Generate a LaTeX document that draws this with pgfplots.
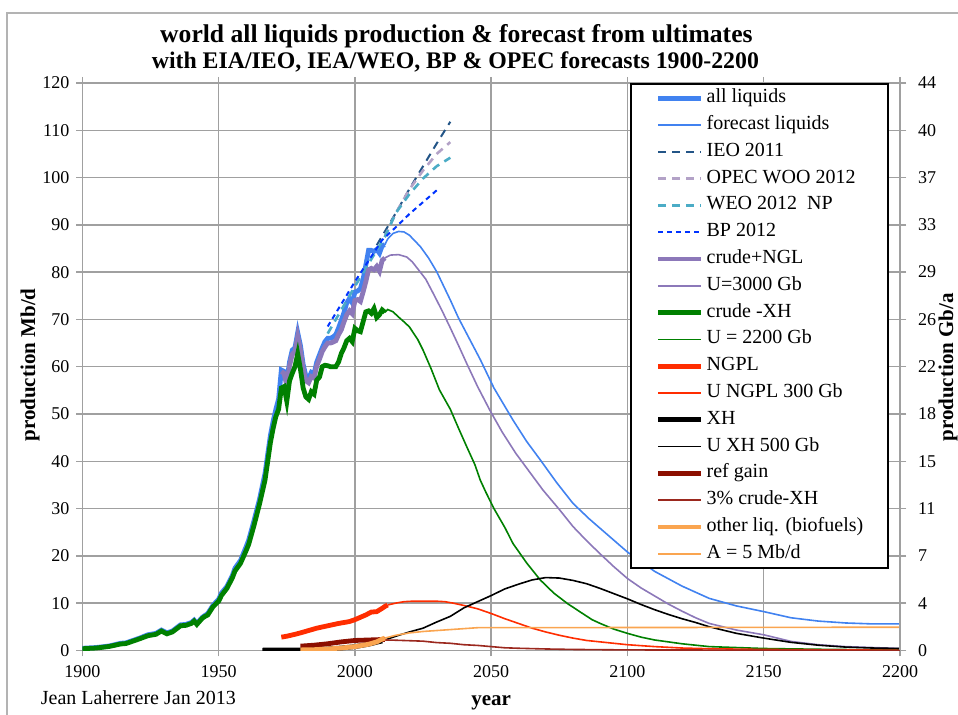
\documentclass[border=0pt]{standalone}
\usepackage{fontspec}
\setmainfont{Liberation Serif}
\usepackage{pgfplots}
\pgfplotsset{compat=1.18}
\definecolor{cAll}{RGB}{65,130,240}
\definecolor{cIEO}{RGB}{35,85,135}
\definecolor{cOPEC}{RGB}{179,162,199}
\definecolor{cWEO}{RGB}{75,172,198}
\definecolor{cBP}{RGB}{0,51,255}
\definecolor{cCNGL}{RGB}{140,120,185}
\definecolor{cCrude}{RGB}{0,128,0}
\definecolor{cNGPL}{RGB}{255,45,0}
\definecolor{cRef}{RGB}{140,15,0}
\definecolor{cRefT}{RGB}{155,40,30}
\definecolor{cOther}{RGB}{250,165,80}
\definecolor{cGrid}{RGB}{160,160,160}
\begin{document}
\begin{tikzpicture}[x=1pt,y=1pt]
\useasboundingbox (-41.2,-32.3) rectangle (437.8,325.2);
\draw[cGrid!80, line width=0.6pt] (-37.7,-40) -- (-37.7,318.7) -- (450,318.7);
\node[font=\bfseries\fontsize{12.8}{14}\selectfont] at (187,307.0)
 {world all liquids production \& forecast from ultimates};
\node[font=\bfseries\fontsize{11.9}{14}\selectfont] at (186.5,294.0)
 {with EIA/IEO, IEA/WEO, BP \& OPEC forecasts 1900-2200};
\node[anchor=west, font=\fontsize{10}{12}\selectfont] at (-24.3,-23.8) {Jean Laherrere Jan 2013};
\node[rotate=90, anchor=base, font=\bfseries\fontsize{10.5}{12}\selectfont] at (435.3,141.5) {production Gb/a};
\begin{axis}[
 at={(0,0)}, anchor=south west,
 scale only axis, width=408.8pt, height=283.7pt,
 xmin=1900, xmax=2200, ymin=0, ymax=120,
 xtick={1900,1950,...,2200}, ytick={0,10,...,120},
 grid=major, major grid style={color=cGrid, line width=0.75pt},
 axis line style={cGrid, line width=0.75pt},
 tick style={cGrid, line width=0.75pt},
 tick align=outside, major tick length=3pt,
 ticklabel style={font=\fontsize{9}{10}\selectfont},
 xticklabel style={yshift=-1pt},
 /pgf/number format/assume math mode=true,
 /pgf/number format/1000 sep={},
 xlabel={year}, ylabel={production Mb/d},
 xlabel style={font=\bfseries\fontsize{10.5}{12}\selectfont, at={(axis description cs:0.5,-0.093)}, anchor=center},
 ylabel style={font=\bfseries\fontsize{10.5}{12}\selectfont, at={(axis description cs:-0.064,0.503)}, anchor=center},
 legend image code/.code={\draw[#1] (0pt,0pt) -- (21.5pt,0pt);},
 legend cell align=left,
 legend style={at={(0.9866,1)}, anchor=north east, draw=black, line width=0.8pt, fill=white,
   font=\fontsize{10}{12}\selectfont, inner xsep=12.5pt, inner ysep=0.5pt, column sep=1.5pt,
   nodes={inner xsep=0pt, inner ysep=2pt, text height=7pt, text depth=2.4pt}},
]
% all liquids
\addplot[cAll, line width=2.4pt] coordinates {(1900,0.45)(1905,0.6)(1908,0.8)(1910,0.95)(1914,1.5)(1916,1.6)(1919,2.2)(1921,2.6)(1924,3.3)(1927,3.6)(1929,4.3)(1931,3.7)(1933,4.1)(1936,5.4)(1938,5.5)(1940,5.9)(1941,6.4)(1942,5.7)(1944,7.0)(1945,7.4)(1946,7.8)(1948,9.6)(1950,10.8)(1951,12.1)(1953,13.5)(1955,15.8)(1956,17.4)(1958,19.0)(1960,21.8)(1961,23.3)(1963,27.5)(1965,32.0)(1967,37.4)(1969,45.5)(1970,48.5)(1971,51.0)(1972,53.2)(1973,59.3)(1974,59.0)(1975,56.8)(1976,61.0)(1977,63.5)(1978,64.0)(1979,67.2)(1980,64.5)(1981,60.5)(1982,58.0)(1983,57.5)(1984,58.8)(1985,58.5)(1986,61.0)(1987,62.5)(1988,64.0)(1989,65.3)(1990,66.0)(1991,66.0)(1992,66.3)(1993,66.8)(1994,68.2)(1995,69.8)(1996,71.5)(1997,73.5)(1998,74.4)(1999,73.5)(2000,75.8)(2001,76.0)(2002,76.5)(2003,78.5)(2004,81.5)(2005,84.6)(2006,84.6)(2007,84.4)(2008,84.8)(2009,84.0)(2010,85.6)(2011,85.8)};
\addlegendentry{all liquids}
\addplot[cAll, line width=0.8pt] coordinates {(2011,85.8)(2012,87.0)(2014,88.2)(2016,88.6)(2018,88.5)(2020,87.8)(2024,85.4)(2027,83.0)(2030,80.1)(2033,76.5)(2035,74.1)(2038,70.3)(2041,67.0)(2046,61.5)(2051,55.5)(2058,48.7)(2063,44.2)(2068,40.3)(2074,35.5)(2080,31.1)(2086,27.8)(2092,24.8)(2100,20.8)(2110,16.7)(2120,13.6)(2130,11.0)(2140,9.4)(2150,8.2)(2160,6.9)(2170,6.2)(2180,5.8)(2190,5.6)(2200,5.6)};
\addlegendentry{forecast liquids}
\addplot[cIEO, line width=1pt, dash pattern=on 4pt off 3pt] coordinates {(2008,85.7)(2015,92.5)(2020,97.6)(2025,102.4)(2030,107.2)(2035,111.8)};
\addlegendentry{IEO 2011}
\addplot[cOPEC, line width=1.3pt, dash pattern=on 4pt off 3pt] coordinates {(2011,87.5)(2015,92.5)(2020,97.5)(2025,101.5)(2030,105.0)(2035,107.5)};
\addlegendentry{OPEC WOO 2012}
\addplot[cWEO, line width=1.3pt, dash pattern=on 4pt off 3pt] coordinates {(1990,67.0)(2000,77.0)(2011,87.5)(2015,92.5)(2020,96.5)(2025,99.8)(2030,102.4)(2035,104.2)};
\addlegendentry{WEO 2012\ \ NP}
\addplot[cBP, line width=1pt, dash pattern=on 2.5pt off 2pt] coordinates {(1990,68.5)(2000,78.0)(2010,86.8)(2015,89.5)(2020,92.3)(2025,94.8)(2030,97.3)};
\addlegendentry{BP 2012}
% crude + NGL
\addplot[cCNGL, line width=2.4pt] coordinates {(1973,59.0)(1974,58.6)(1975,56.0)(1976,60.2)(1977,62.6)(1978,63.2)(1979,66.4)(1980,63.5)(1981,59.6)(1982,57.0)(1983,56.6)(1984,57.9)(1985,57.6)(1986,60.2)(1987,61.6)(1988,63.2)(1989,64.2)(1990,65.0)(1991,65.0)(1992,65.2)(1993,65.5)(1994,66.8)(1995,67.8)(1996,69.5)(1997,71.0)(1998,71.8)(1999,71.2)(2000,74.0)(2001,74.2)(2002,73.8)(2003,75.8)(2004,78.0)(2005,80.5)(2006,80.8)(2007,80.5)(2008,81.2)(2009,80.2)(2010,82.5)(2011,83.0)};
\addlegendentry{crude+NGL}
\addplot[cCNGL, line width=0.8pt] coordinates {(2011,83.0)(2013,83.6)(2016,83.7)(2019,83.2)(2021,82.2)(2024,80.0)(2026,78.5)(2029,75.2)(2032,71.8)(2035,68.2)(2038,64.5)(2041,60.7)(2045,55.8)(2049.5,50.8)(2054,46.2)(2059,41.7)(2064,37.8)(2069,33.9)(2075,29.8)(2080,26.2)(2085,23.2)(2090,20.4)(2095,17.7)(2100,15.2)(2105,13.2)(2110,11.5)(2115,9.8)(2120,8.3)(2125,6.9)(2130,5.7)(2140,4.3)(2150,3.3)(2160,1.9)(2170,1.2)(2180,0.8)(2190,0.6)(2200,0.4)};
\addlegendentry{U=3000 Gb}
% crude - XH
\addplot[cCrude, line width=2.4pt] coordinates {(1900,0.35)(1905,0.5)(1908,0.7)(1910,0.85)(1914,1.35)(1916,1.45)(1919,2.05)(1921,2.45)(1924,3.1)(1927,3.4)(1929,4.1)(1931,3.5)(1933,3.9)(1936,5.2)(1938,5.3)(1940,5.7)(1941,6.2)(1942,5.5)(1944,6.8)(1945,7.2)(1946,7.5)(1948,9.3)(1950,10.4)(1951,11.6)(1953,13.1)(1955,15.3)(1956,16.8)(1958,18.4)(1960,21.0)(1961,22.4)(1963,26.5)(1965,31.0)(1967,36.0)(1969,44.0)(1970,47.0)(1971,49.5)(1972,51.0)(1973,55.5)(1974,55.8)(1975,52.7)(1976,57.0)(1977,58.6)(1978,60.0)(1979,62.7)(1980,59.5)(1981,55.5)(1982,53.6)(1983,53.1)(1984,54.7)(1985,54.2)(1986,57.2)(1987,57.8)(1988,60.0)(1989,60.3)(1990,60.2)(1991,60.0)(1992,60.0)(1993,60.0)(1994,61.0)(1995,62.8)(1996,64.0)(1997,65.5)(1998,66.0)(1999,65.3)(2000,68.1)(2001,67.6)(2002,67.4)(2003,69.5)(2004,71.6)(2005,71.8)(2006,71.3)(2007,72.3)(2008,70.4)(2009,71.0)(2010,72.0)(2011,71.5)};
\addlegendentry{crude -XH}
\addplot[cCrude, line width=0.8pt] coordinates {(2011,71.5)(2012,72.1)(2014,71.6)(2016,70.5)(2018,69.5)(2020,68.4)(2023,65.8)(2025,63.5)(2028,59.5)(2031,55.1)(2035,51.0)(2038,47.0)(2041,43.1)(2044,39.3)(2046,36.0)(2048,33.5)(2051,30.0)(2055,26.0)(2058,22.6)(2063,18.5)(2068,14.9)(2073,12.1)(2078,9.9)(2083,8.0)(2087,6.5)(2090,5.7)(2095,4.5)(2100,3.6)(2105,2.8)(2110,2.2)(2120,1.4)(2130,0.8)(2140,0.6)(2150,0.4)(2175,0.2)(2200,0.1)};
\addlegendentry{U = 2200 Gb}
% NGPL
\addplot[cNGPL, line width=2.4pt] coordinates {(1973,2.8)(1975,3.0)(1978,3.4)(1980,3.7)(1983,4.2)(1986,4.7)(1990,5.2)(1994,5.7)(1998,6.1)(2000,6.5)(2002,7.0)(2004,7.5)(2006,8.1)(2008,8.2)(2010,8.9)(2011,9.3)(2012,9.6)};
\addlegendentry{NGPL}
\addplot[cNGPL, line width=0.8pt] coordinates {(2012,9.6)(2015,10.0)(2018,10.3)(2021,10.4)(2025,10.4)(2030,10.4)(2033,10.3)(2036,10.0)(2040,9.5)(2045,8.8)(2050,7.8)(2055,6.7)(2060,5.7)(2065,4.7)(2070,3.9)(2075,3.2)(2080,2.6)(2085,2.1)(2090,1.8)(2095,1.5)(2100,1.2)(2110,0.8)(2120,0.5)(2130,0.35)(2150,0.2)(2175,0.1)(2200,0.05)};
\addlegendentry{U NGPL 300 Gb}
% XH
\addplot[black, line width=2.4pt] coordinates {(1966,0.05)(1980,0.1)(1985,0.2)(1990,0.3)(1995,0.5)(2000,0.8)(2005,1.3)(2010,2.0)};
\addlegendentry{XH}
\addplot[black, line width=0.8pt] coordinates {(2010,2.0)(2015,3.0)(2020,3.9)(2025,4.7)(2030,6.0)(2035,7.2)(2040,9.0)(2045,10.3)(2050,11.6)(2055,13.0)(2060,14.0)(2065,14.9)(2070,15.4)(2075,15.3)(2080,14.8)(2085,14.1)(2090,13.1)(2095,12.0)(2100,10.9)(2105,9.7)(2110,8.6)(2115,7.6)(2120,6.7)(2125,5.9)(2130,5.0)(2140,3.6)(2150,2.6)(2160,1.7)(2170,1.1)(2180,0.7)(2190,0.5)(2200,0.4)};
\addlegendentry{U XH 500 Gb}
% ref gain
\addplot[cRef, line width=2.4pt] coordinates {(1980,0.9)(1985,1.1)(1990,1.4)(1995,1.8)(2000,2.1)(2005,2.2)(2010,2.3)(2011,2.3)};
\addlegendentry{ref gain}
\addplot[cRefT, line width=0.8pt] coordinates {(2011,2.2)(2015,2.15)(2020,2.05)(2025,1.95)(2030,1.65)(2035,1.5)(2040,1.2)(2045,1.05)(2050,0.8)(2055,0.55)(2060,0.45)(2070,0.3)(2080,0.2)(2090,0.15)(2100,0.1)(2150,0.05)(2200,0.0)};
\addlegendentry{3\% crude-XH}
% other liquids
\addplot[cOther, line width=2.4pt] coordinates {(1980,0.1)(1985,0.15)(1990,0.3)(1995,0.5)(2000,0.8)(2005,1.3)(2008,1.8)(2010,2.4)(2011,2.6)};
\addlegendentry{other liq. (biofuels)}
\addplot[cOther, line width=0.8pt] coordinates {(2011,2.6)(2015,3.2)(2020,3.7)(2025,4.0)(2030,4.2)(2035,4.4)(2040,4.6)(2045,4.8)(2200,4.9)};
\addlegendentry{A = 5 Mb/d}
\end{axis}
\begin{axis}[
 at={(0,0)}, anchor=south west,
 scale only axis, width=408.8pt, height=283.7pt,
 xmin=1900, xmax=2200, ymin=0, ymax=120,
 axis x line=none, axis y line*=right,
 ytick={0,10,...,120},
 yticklabels={0,4,7,11,15,18,22,26,29,33,37,40,44},
 axis line style={cGrid, line width=0.75pt},
 tick style={cGrid, line width=0.75pt},
 tick align=outside, major tick length=3pt,
 ticklabel style={font=\fontsize{9}{10}\selectfont},
 yticklabel style={xshift=2.5pt},
]
\addplot[draw=none] coordinates {(1900,0)};
\end{axis}
\end{tikzpicture}
\end{document}
